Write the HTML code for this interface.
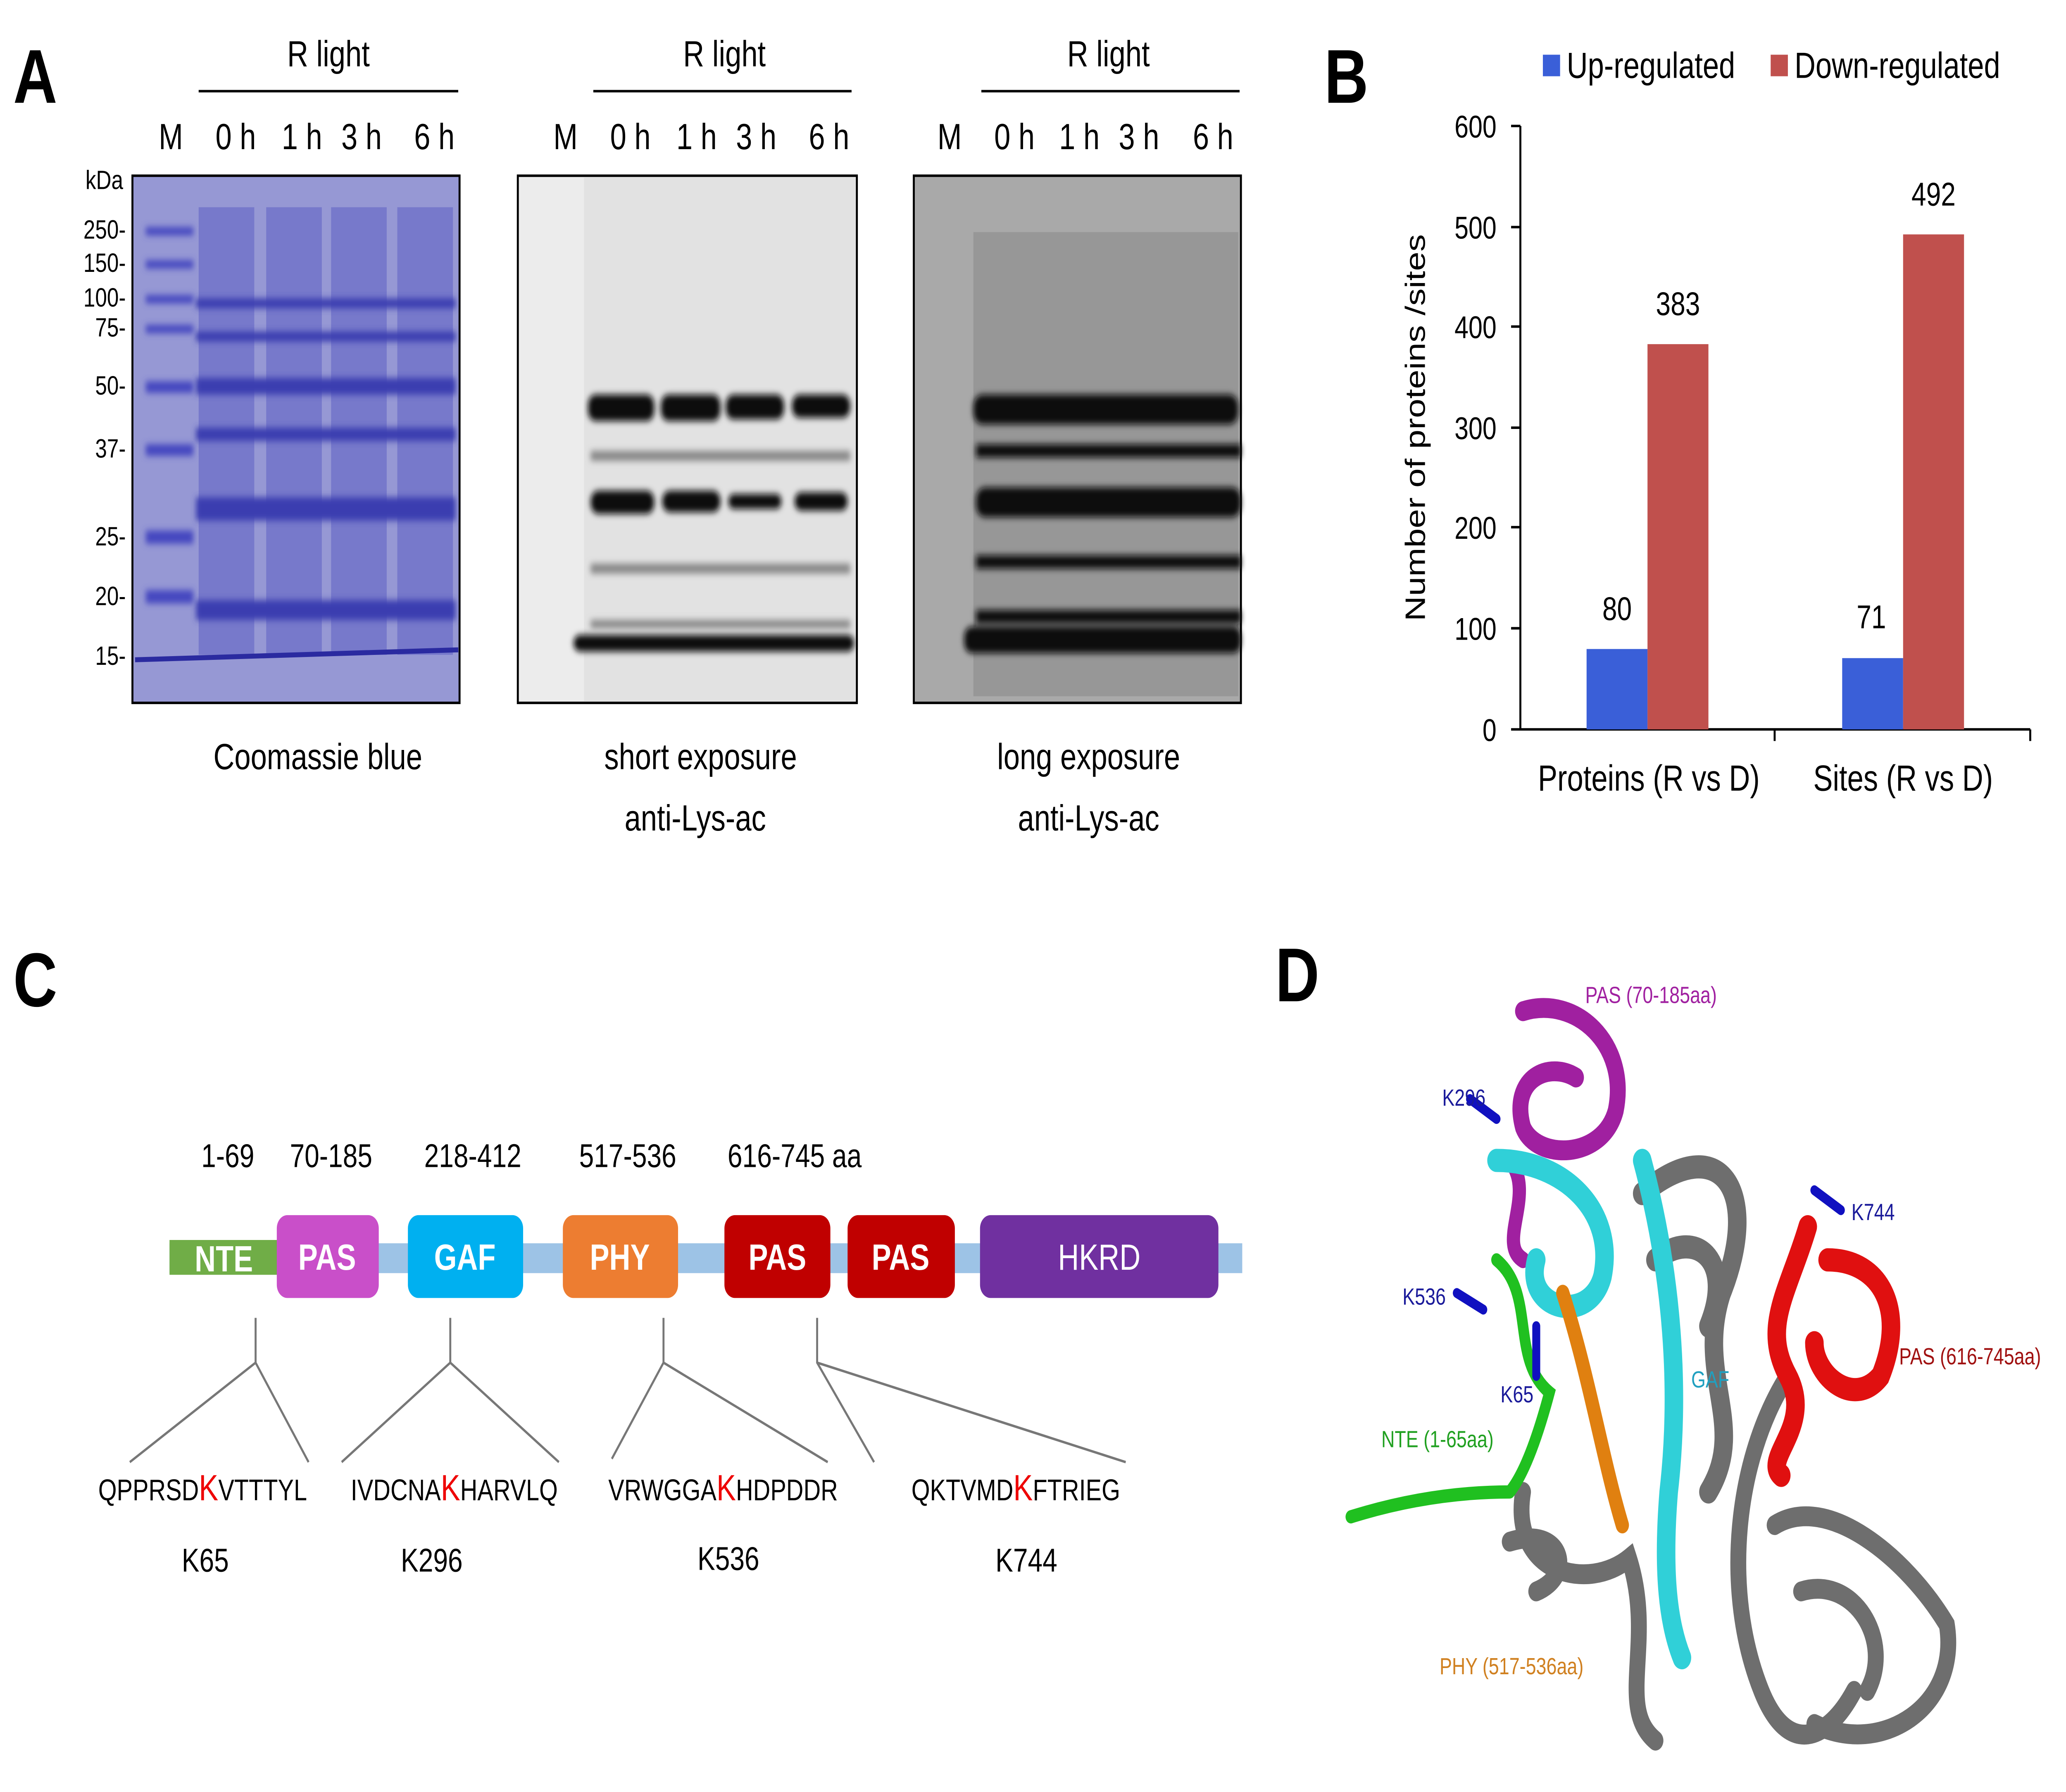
<!DOCTYPE html>
<html><head><meta charset="utf-8"><style>
html,body{margin:0;padding:0;background:#fff;width:100%;height:100%;overflow:hidden;}
svg{display:block;position:absolute;left:0;top:0;}
text{font-family:"Liberation Sans",Arial,sans-serif;}
</style></head><body>
<svg viewBox="0 0 1560 1081" preserveAspectRatio="none" style="width:100vw;height:100vh" xmlns="http://www.w3.org/2000/svg">
<defs>
<filter id="bl" x="-20%" y="-50%" width="140%" height="200%"><feGaussianBlur stdDeviation="2"/></filter>
</defs>
<!-- Panel A -->
<text x="10" y="62" font-size="46" font-weight="bold">A</text>
<g font-size="22" text-anchor="middle">
<text x="248" y="40">R light</text><line x1="150" y1="55" x2="346" y2="55" stroke="#000" stroke-width="1.5"/>
<text x="129" y="90">M</text><text x="178" y="90">0 h</text><text x="228" y="90">1 h</text><text x="273" y="90">3 h</text><text x="328" y="90">6 h</text>
<text x="547" y="40">R light</text><line x1="448" y1="55" x2="643" y2="55" stroke="#000" stroke-width="1.5"/>
<text x="427" y="90">M</text><text x="476" y="90">0 h</text><text x="526" y="90">1 h</text><text x="571" y="90">3 h</text><text x="626" y="90">6 h</text>
<text x="837" y="40">R light</text><line x1="741" y1="55" x2="936" y2="55" stroke="#000" stroke-width="1.5"/>
<text x="717" y="90">M</text><text x="766" y="90">0 h</text><text x="815" y="90">1 h</text><text x="860" y="90">3 h</text><text x="916" y="90">6 h</text>
<text x="240" y="464">Coomassie blue</text>
<text x="529" y="464">short exposure</text><text x="525" y="501">anti-Lys-ac</text>
<text x="822" y="464">long exposure</text><text x="822" y="501">anti-Lys-ac</text>
</g>
<g font-size="16" text-anchor="end">
<text x="93" y="114">kDa</text><text x="95" y="144">250-</text><text x="95" y="164">150-</text><text x="95" y="185">100-</text><text x="95" y="203">75-</text><text x="95" y="238">50-</text><text x="95" y="276">37-</text><text x="95" y="329">25-</text><text x="95" y="365">20-</text><text x="95" y="401">15-</text>
</g>
<!-- gel 1 -->
<rect x="100" y="106" width="247" height="318" fill="#9698d4" stroke="#000" stroke-width="1.5"/>
<g fill="#6a6cc8" opacity="0.7">
<rect x="150" y="125" width="42" height="270"/><rect x="201" y="125" width="42" height="270"/><rect x="250" y="125" width="42" height="270"/><rect x="300" y="125" width="42" height="270"/>
</g>
<g fill="#3a3cb0" filter="url(#bl)">
<rect x="148" y="300" width="196" height="14"/><rect x="148" y="362" width="196" height="12"/><rect x="148" y="228" width="196" height="10"/><rect x="148" y="258" width="196" height="8"/>
<rect x="148" y="180" width="196" height="6"/><rect x="148" y="200" width="196" height="6"/>
</g>
<g fill="#4446c0" filter="url(#bl)">
<rect x="110" y="137" width="36" height="5"/><rect x="110" y="157" width="36" height="5"/><rect x="110" y="178" width="36" height="5"/><rect x="110" y="196" width="36" height="5"/>
<rect x="110" y="230" width="36" height="7"/><rect x="110" y="268" width="36" height="7"/><rect x="110" y="320" width="36" height="8"/><rect x="110" y="356" width="36" height="8"/>
</g>
<line x1="102" y1="398" x2="346" y2="392" stroke="#2a2aa0" stroke-width="3"/>
<!-- gel 2 -->
<rect x="391" y="106" width="256" height="318" fill="#ececec" stroke="#000" stroke-width="1.5"/>
<rect x="441" y="107" width="205" height="316" fill="#dcdcdc" opacity="0.6"/>
<g fill="#111" filter="url(#bl)">
<rect x="444" y="238" width="50" height="16" rx="6"/><rect x="499" y="238" width="45" height="16" rx="6"/><rect x="548" y="238" width="44" height="15" rx="6"/><rect x="598" y="238" width="44" height="14" rx="6"/>
<rect x="446" y="296" width="48" height="14" rx="6"/><rect x="500" y="296" width="44" height="13" rx="6"/><rect x="550" y="298" width="40" height="9" rx="4"/><rect x="600" y="297" width="40" height="11" rx="5"/>
<rect x="433" y="383" width="212" height="10" rx="5"/>
</g>
<g fill="#888" filter="url(#bl)"><rect x="446" y="272" width="196" height="6"/><rect x="446" y="340" width="196" height="6"/><rect x="446" y="374" width="196" height="5"/></g>
<!-- gel 3 -->
<rect x="690" y="106" width="247" height="318" fill="#a9a9a9" stroke="#000" stroke-width="1.5"/>
<rect x="735" y="140" width="200" height="280" fill="#909090" opacity="0.7"/>
<g fill="#0a0a0a" filter="url(#bl)">
<rect x="735" y="238" width="200" height="18" rx="7"/>
<rect x="737" y="294" width="200" height="18" rx="7"/>
<rect x="728" y="378" width="209" height="16" rx="6"/>
<rect x="737" y="268" width="200" height="8"/><rect x="737" y="335" width="200" height="8"/><rect x="737" y="368" width="200" height="8"/>
</g>
<!-- Panel B -->
<text x="1000" y="62" font-size="46" font-weight="bold">B</text>
<rect x="1165" y="33" width="13" height="13" fill="#3a5fd8"/><text x="1183" y="47" font-size="22">Up-regulated</text>
<rect x="1337" y="33" width="13" height="13" fill="#c0504d"/><text x="1355" y="47" font-size="22">Down-regulated</text>
<g font-size="19" text-anchor="end">
<text x="1130" y="83">600</text><text x="1130" y="144">500</text><text x="1130" y="204">400</text><text x="1130" y="265">300</text><text x="1130" y="325">200</text><text x="1130" y="386">100</text><text x="1130" y="447">0</text>
</g>
<g stroke="#000" stroke-width="1.5">
<line x1="1148" y1="76" x2="1148" y2="440"/><line x1="1148" y1="440" x2="1533" y2="440"/>
<line x1="1141" y1="76" x2="1148" y2="76"/><line x1="1141" y1="137" x2="1148" y2="137"/><line x1="1141" y1="197" x2="1148" y2="197"/><line x1="1141" y1="258" x2="1148" y2="258"/><line x1="1141" y1="318" x2="1148" y2="318"/><line x1="1141" y1="379" x2="1148" y2="379"/><line x1="1141" y1="440" x2="1148" y2="440"/>
<line x1="1340" y1="440" x2="1340" y2="447"/><line x1="1533" y1="440" x2="1533" y2="447"/>
</g>
<rect x="1198" y="391.5" width="46" height="48.5" fill="#3a5fd8"/>
<rect x="1244" y="207.6" width="46" height="232.4" fill="#c0504d"/>
<rect x="1391" y="397" width="46" height="43" fill="#3a5fd8"/>
<rect x="1437" y="141.4" width="46" height="298.6" fill="#c0504d"/>
<g font-size="20" text-anchor="middle">
<text x="1221" y="374">80</text><text x="1267" y="190">383</text><text x="1413" y="379">71</text><text x="1460" y="124">492</text>
</g>
<g font-size="22" text-anchor="middle"><text x="1245" y="477">Proteins (R vs D)</text><text x="1437" y="477">Sites (R vs D)</text></g>
<text transform="translate(1076,258) rotate(-90)" font-size="21" text-anchor="middle">Number of proteins /sites</text>
<!-- Panel C -->
<text x="10" y="607" font-size="46" font-weight="bold">C</text>
<g font-size="20" text-anchor="middle">
<text x="172" y="704">1-69</text><text x="250" y="704">70-185</text><text x="357" y="704">218-412</text><text x="474" y="704">517-536</text><text x="600" y="704">616-745 aa</text>
</g>
<rect x="128" y="750" width="810" height="18" fill="#9dc3e6"/>
<rect x="128" y="748" width="82" height="21" fill="#70ad47"/>
<rect x="209" y="733" width="77" height="50" rx="8" fill="#c94fc9"/>
<rect x="308" y="733" width="87" height="50" rx="8" fill="#00b0f0"/>
<rect x="425" y="733" width="87" height="50" rx="8" fill="#ed7d31"/>
<rect x="547" y="733" width="80" height="50" rx="8" fill="#c00000"/>
<rect x="640" y="733" width="81" height="50" rx="8" fill="#c00000"/>
<rect x="740" y="733" width="180" height="50" rx="8" fill="#7030a0"/>
<g font-size="22" font-weight="bold" text-anchor="middle" fill="#fff">
<text x="169" y="767">NTE</text><text x="247" y="766">PAS</text><text x="351" y="766">GAF</text><text x="468" y="766">PHY</text><text x="587" y="766">PAS</text><text x="680" y="766">PAS</text><text x="830" y="766" font-weight="normal">HKRD</text>
</g>
<g stroke="#777" stroke-width="1.5" fill="none">
<polyline points="193,795 193,822 98,882"/><line x1="193" y1="822" x2="233" y2="882"/>
<polyline points="340,795 340,822 258,882"/><line x1="340" y1="822" x2="422" y2="882"/>
<polyline points="501,795 501,822 462,880"/><line x1="501" y1="822" x2="625" y2="882"/>
<polyline points="617,795 617,822 660,882"/><line x1="617" y1="822" x2="850" y2="882"/>
</g>
<g font-size="18" text-anchor="middle">
<text x="153" y="905">QPPRSD<tspan fill="#e00" font-size="22">K</tspan>VTTTYL</text>
<text x="343" y="905">IVDCNA<tspan fill="#e00" font-size="22">K</tspan>HARVLQ</text>
<text x="546" y="905">VRWGGA<tspan fill="#e00" font-size="22">K</tspan>HDPDDR</text>
<text x="767" y="905">QKTVMD<tspan fill="#e00" font-size="22">K</tspan>FTRIEG</text>
</g>
<g font-size="20" text-anchor="middle"><text x="155" y="948">K65</text><text x="326" y="948">K296</text><text x="550" y="947">K536</text><text x="775" y="948">K744</text></g>
<!-- Panel D -->
<text x="963" y="604" font-size="46" font-weight="bold">D</text>
<g fill="none" stroke-linecap="round">
<path d="M1240 720 C1300 680 1330 720 1300 780 C1280 830 1320 860 1290 900 M1250 760 C1280 740 1310 760 1290 800" stroke="#6e6e6e" stroke-width="14"/>
<path d="M1350 830 C1310 880 1300 960 1330 1020 C1350 1060 1380 1050 1400 1020" stroke="#6e6e6e" stroke-width="12"/>
<path d="M1340 920 C1380 900 1440 940 1470 980 C1480 1030 1420 1060 1370 1040 M1360 960 C1400 950 1430 990 1410 1020" stroke="#6e6e6e" stroke-width="12"/>
<path d="M1150 900 C1140 950 1200 960 1230 940 C1250 990 1220 1030 1250 1050 M1140 930 C1180 920 1190 950 1160 960" stroke="#6e6e6e" stroke-width="12"/>
<path d="M1150 610 C1190 600 1230 630 1220 670 C1210 700 1160 700 1150 680 C1140 650 1170 640 1190 650" stroke="#a020a0" stroke-width="12"/>
<path d="M1140 700 C1160 720 1130 750 1150 760" stroke="#a020a0" stroke-width="10"/>
<path d="M1130 700 C1180 700 1220 730 1210 770 C1200 800 1150 790 1160 760 M1240 700 C1260 760 1270 830 1260 900 C1255 950 1260 980 1270 1000" stroke="#30d0d8" stroke-width="14"/>
<path d="M1130 760 C1160 780 1140 820 1170 840 C1160 870 1150 890 1140 900 M1140 900 C1100 900 1060 905 1020 915" stroke="#20c020" stroke-width="8"/>
<path d="M1180 780 C1200 830 1210 880 1225 920" stroke="#e08010" stroke-width="10"/>
<path d="M1365 740 C1350 780 1330 800 1350 830 C1370 860 1330 880 1345 890 M1380 760 C1420 760 1440 790 1420 830 C1400 850 1370 830 1370 810" stroke="#e01010" stroke-width="14"/>
<path d="M1110 663 L1130 675 M1100 780 L1120 790 M1160 800 L1160 830 M1370 718 L1390 730" stroke="#1010c0" stroke-width="6"/>
</g>
<g font-size="14">
<text x="1197" y="605" fill="#a020a0">PAS (70-185aa)</text>
<text x="1089" y="667" fill="#1a1a9a">K296</text>
<text x="1398" y="736" fill="#1a1a9a">K744</text>
<text x="1059" y="787" fill="#1a1a9a">K536</text>
<text x="1133" y="846" fill="#1a1a9a">K65</text>
<text x="1277" y="837" fill="#20a0c0">GAF</text>
<text x="1434" y="823" fill="#a01010">PAS (616-745aa)</text>
<text x="1043" y="873" fill="#20a020">NTE (1-65aa)</text>
<text x="1087" y="1010" fill="#d08020">PHY (517-536aa)</text>
</g>
</svg>
</body></html>
